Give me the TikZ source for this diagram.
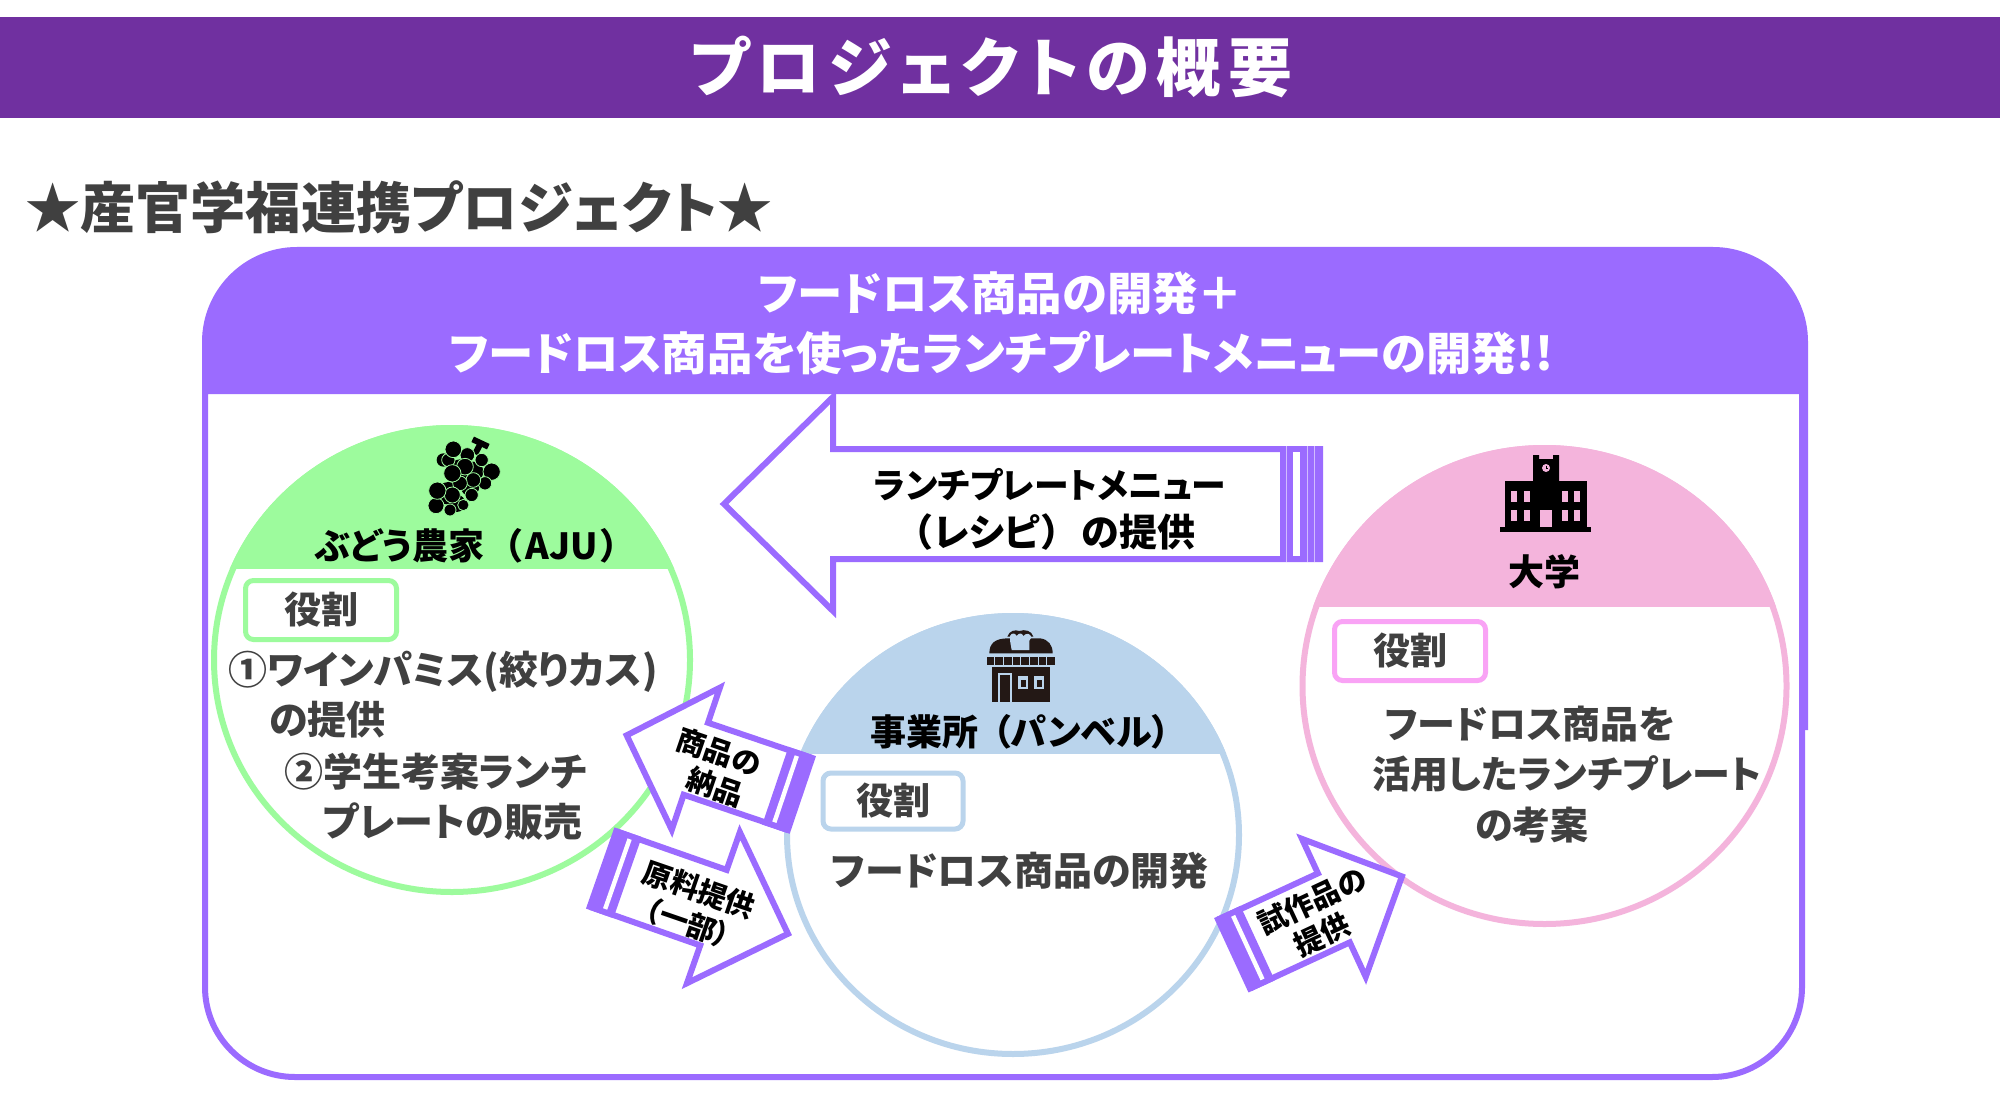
\documentclass[tikz,border=0pt]{standalone}
\usepackage{fontspec}
\setmainfont{Noto Sans CJK JP}[RawFeature=+palt]
\definecolor{bandpurple}{HTML}{7030A0}
\definecolor{boxpurple}{HTML}{9B6BFF}
\definecolor{grapegreen}{HTML}{9DFB9D}
\definecolor{shopblue}{HTML}{BAD4EC}
\definecolor{unipink}{HTML}{F4B4DC}
\definecolor{rolepink}{HTML}{F9A3F5}
\definecolor{bodygrey}{HTML}{404040}
\definecolor{shopdark}{HTML}{231815}
\tikzset{
  headtext/.style={font=\bfseries\fontsize{22.7}{26}\selectfont,text=white},
  nametext/.style={font=\bfseries\fontsize{18}{22}\selectfont,text=black},
  roletext/.style={font=\bfseries\fontsize{19.5}{24}\selectfont,text=bodygrey},
  unitext/.style={font=\bfseries\fontsize{19}{24}\selectfont,text=bodygrey},
  arrowtext/.style={font=\bfseries\fontsize{17.4}{23}\selectfont,text=black},
  smalltext/.style={font=\bfseries\fontsize{14.5}{17}\selectfont,text=black},
  rolebox/.style={draw=#1,line width=2.5pt,fill=white,rounded corners=4pt,minimum width=75.5pt,minimum height=29.5pt,font=\bfseries\fontsize{18.5}{21}\selectfont,text=bodygrey},
  arrowline/.style={draw=boxpurple,line width=3pt,fill=white,miter limit=10},
}
% tail x, tail y, angle, length, half shaft, half head, head length, bar end, stripe start
\newcommand{\stripearrow}[9]{
  \begin{scope}[shift={(#1,#2)},rotate=#3]
    \draw[arrowline] (0,-#5+3) -- (#4-#7+3,-#5+3) -- (#4-#7+3,-#6+7) -- (#4-4,0) -- (#4-#7+3,#6-7) -- (#4-#7+3,#5-3) -- (0,#5-3) -- cycle;
    \fill[boxpurple] (0,-#5) rectangle (#8,#5);
    \fill[white] (#9,-#5+6) rectangle (#9+#8*0.17,#5-6);
  \end{scope}
}
\begin{document}
\begin{tikzpicture}[x=0.5pt,y=-0.5pt]
\useasboundingbox (0,0) rectangle (2000,1096);
\fill[white] (0,0) rectangle (2000,1096);
\fill[bandpurple] (0,17) rectangle (2000,118);
\node[font=\bfseries\fontsize{32}{38}\selectfont\addfontfeatures{LetterSpace=11},text=white] (title) at (991,67) {プロジェクトの概要};
\node[anchor=west,font=\bfseries\fontsize{27.6}{32}\selectfont,text=bodygrey] (subtitle) at (18,207) {★産官学福連携プロジェクト★};
% purple frame
\fill[boxpurple] (202,400) [rounded corners=47.5pt] -- (202,247) -- (1808,247) [sharp corners] -- (1808,730) -- (1795,730) -- (1795,400) -- cycle;
\draw[draw=boxpurple,line width=3pt,fill=white] (205,391) [rounded corners=45pt] -- (205,1077) -- (1802,1077) [sharp corners] -- (1802,391) -- cycle;
\node[headtext] (headone) at (1001,293) {フードロス商品の開発＋};
\node[headtext] (headtwo) at (1001,353) {フードロス商品を使ったランチプレートメニューの開発!!};
% farmer
\begin{scope}
  \clip (0,0) rectangle (2000,568);
  \fill[grapegreen] (452,660) ellipse [x radius=241,y radius=235];
\end{scope}
\draw[grapegreen,line width=3pt] (452,660) ellipse [x radius=238,y radius=232];
\begin{scope}[shift={(420,430)},scale=1/3]
  \draw[black,line width=3pt] (158,28) -- (205,50) (182,40) -- (165,72);
  \foreach \cx/\cy/\cr in {120/120/32,160/125/30,150/170/28,85/190/34,110/220/26,70/90/20}
    \fill[black] (\cx,\cy) circle (\cr);
  \foreach \cx/\cy/\cr in {142/75/22,185/90/20,85/90/20,215/125/26,100/58/25,135/110/25,195/160/20,160/150/22,120/160/22,155/195/20,130/225/17,97/130/26,90/240/18,48/227/24,97/195/24,52/182/26}
    \filldraw[fill=black,draw=grapegreen,line width=0.4pt] (\cx,\cy) circle (\cr);
\end{scope}
\node[nametext] (farmer) at (467,546) {ぶどう農家\hspace{.55em}（\hspace{.1em}AJU\hspace{.1em}）};
\node[rolebox=grapegreen] (farmerrole) at (321,610) {役割};
\node[roletext,anchor=west] (farmerone) at (221,672) {①ワインパミス(絞りカス)};
\node[roletext,anchor=west] (farmertwo) at (262,720) {の提供};
\node[roletext,anchor=west] (farmerthree) at (277,772) {②学生考案ランチ};
\node[roletext,anchor=west] (farmerfour) at (316,822) {プレートの販売};
% shop
\begin{scope}
  \clip (0,0) rectangle (2000,753);
  \fill[shopblue] (1013,835) ellipse [x radius=229,y radius=222];
\end{scope}
\draw[shopblue,line width=3pt] (1013,835) ellipse [x radius=226,y radius=219];
\begin{scope}[shift={(970,620)},scale=1/3]
  \fill[shopdark] (58,100) .. controls (58,70) and (75,55) .. (115,55) -- (210,55) .. controls (235,58) and (248,75) .. (248,100) -- cycle;
  \fill[shopdark] (112,50) .. controls (118,32) and (135,28) .. (148,33) .. controls (165,27) and (185,32) .. (190,50) -- cycle;
  \fill[shopblue] (120,62) -- (120,48) .. controls (125,38) and (135,38) .. (140,48) .. controls (148,38) and (155,38) .. (160,48) .. controls (168,38) and (182,40) .. (184,52) -- (178,62) -- (178,90) -- (125,90) -- cycle;
  \foreach \ax in {0,1,...,7}
    \fill[shopdark] (50+\ax*26,110) rectangle ++(23,25);
  \fill[shopdark] (65,142) rectangle (240,245);
  \fill[shopblue] (84,158) rectangle (127,245);
  \fill[shopdark] (91,166) rectangle (120,245);
  \fill[shopblue] (145,168) rectangle (174,208);
  \fill[shopblue] (193,168) rectangle (222,208);
  \fill[shopdark] (152,180) rectangle (167,202);
  \fill[shopdark] (200,180) rectangle (215,202);
\end{scope}
\node[nametext] (shop) at (1020,732) {事業所\hspace{.4em}（パンベル）};
\node[rolebox=shopblue,minimum width=70pt,minimum height=28pt] (shoprole) at (893,801) {役割};
\node[roletext] (shopone) at (1020,871) {フードロス商品の開発};
% university
\begin{scope}
  \clip (0,0) rectangle (2000,606);
  \fill[unipink] (1544.5,686) ellipse [x radius=245,y radius=241];
\end{scope}
\draw[unipink,line width=3pt] (1544.5,686) ellipse [x radius=242,y radius=238];
\fill[black] (1505,481) rectangle (1587,528);
\fill[black] (1533,455) -- (1539,455) -- (1539,459) -- (1553,459) -- (1553,455) -- (1559,455) -- (1559,482) -- (1533,482) -- cycle;
\fill[black] (1500,527) rectangle (1591,532);
\fill[unipink] (1546,468) circle (4);
\draw[black,line width=0.5pt] (1546,465.5) -- (1546,468) -- (1548,468);
\foreach \wx in {1511,1524,1562,1574}
  \foreach \wy in {491,510}
    \fill[unipink] (\wx,\wy) rectangle ++(6,10.5);
\fill[unipink] (1540,510) rectangle (1552,527);
\node[nametext] (uni) at (1544,572) {大学};
\node[rolebox=rolepink] (unirole) at (1410,651) {役割};
\node[unitext] (unione) at (1530,724) {フードロス商品を};
\node[unitext] (unitwo) at (1567,774) {活用したランチプレート};
\node[unitext] (unithree) at (1532,825) {の考案};
% arrows
\stripearrow{1320}{504}{180}{600}{58}{114}{116}{40}{20}
\foreach \lx in {1286.5,1307,1314}
  \draw[boxpurple!45!white,line width=0.4pt] (\lx,446) -- (\lx,562);
\node[arrowtext] (menuone) at (1050,485) {ランチプレートメニュー};
\node[arrowtext,font=\bfseries\fontsize{19}{23}\selectfont] (menutwo) at (1054,532) {（\hspace{.05em}レシピ\hspace{.05em}）\hspace{.55em}の提供};
\stripearrow{800}{794}{161.3}{187}{41}{82}{80}{26}{13}
\node[smalltext,rotate=-19] (goodsone) at (719,752) {商品の};
\node[smalltext,rotate=-19] (goodstwo) at (715,787) {納品};
\stripearrow{603}{869}{-19.3}{200}{43}{87}{86}{26}{13}
\node[smalltext,rotate=-19] (rawone) at (699,890) {原料提供};
\node[smalltext,rotate=-19] (rawtwo) at (688,923) {（一部）};
\stripearrow{1234}{954}{24.8}{189}{41}{83}{82}{26}{13}
\node[smalltext,rotate=25] (trialone) at (1312,901) {試作品の};
\node[smalltext,rotate=25] (trialtwo) at (1322,935) {提供};
\end{tikzpicture}
\end{document}
